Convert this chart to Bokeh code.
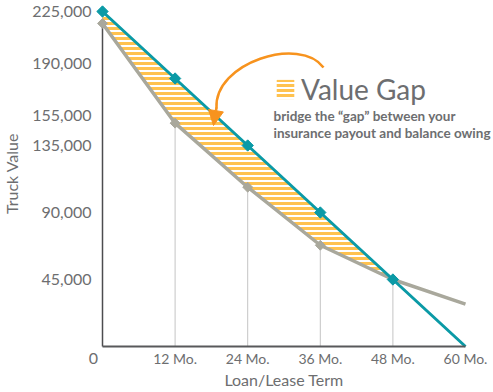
from math import pi
from bokeh.plotting import figure
from bokeh.models import (Range1d, FixedTicker, NumeralTickFormatter, Legend, LegendItem,
                          Label, Arrow, NormalHead)
from bokeh.embed import file_html
from bokeh.resources import INLINE

# ---------------- data ----------------
months = [0, 12, 24, 36, 48, 60]
x_tick_labels = ["12 Mo.", "24 Mo.", "36 Mo.", "48 Mo.", "60 Mo."]
loan_balance = [225000, 180000, 135000, 90000, 45000, 0]      # teal (balance owing)
truck_value = [217000, 150000, 107000, 68000, 45000, 28500]     # gray (insurance payout)
y_ticks = [45000, 90000, 135000, 155000, 190000, 225000]
zero_label = "0"
gap_months = months[:5]

# ---------------- style / geometry ----------------
TEAL = "#0b9aa6"
GRAY = "#a9a89c"
ORANGE_HATCH = "#ffc24f"
ORANGE = "#f7931e"
TEXT = "#6d6e70"
FONT = "Lato"

W, H = 493, 392
ORIGIN_PX = (102, 346)        # canvas position of (0, 0)
PX_PER_MONTH = 6.05
PX_PER_UNIT = (346 - 11) / 225000.0

x_start = -ORIGIN_PX[0] / PX_PER_MONTH
x_end = x_start + W / PX_PER_MONTH
y_start = -(H - ORIGIN_PX[1]) / PX_PER_UNIT
y_end = ORIGIN_PX[1] / PX_PER_UNIT

def page_to_x(px):
    return (px - ORIGIN_PX[0]) / PX_PER_MONTH

def page_to_y(py):
    return (ORIGIN_PX[1] - py) / PX_PER_UNIT

p = figure(width=W, height=H, output_backend="svg", toolbar_location=None,
           x_range=Range1d(x_start, x_end), y_range=Range1d(y_start, y_end),
           min_border_left=0, min_border_right=0, min_border_top=0, min_border_bottom=0)
p.xgrid.visible = False
p.ygrid.visible = False
p.outline_line_color = None
p.background_fill_color = "white"
p.border_fill_color = "white"

# y axis (drawn at x = 0)
ya = p.yaxis[0]
ya.fixed_location = 0
ya.bounds = (0, y_end)
ya.ticker = FixedTicker(ticks=y_ticks)
ya.formatter = NumeralTickFormatter(format="0,0")
ya.axis_line_color = None
ya.major_tick_line_color = None
ya.minor_tick_line_color = None
ya.major_tick_in = 0
ya.major_tick_out = 0
ya.major_label_standoff = 11
ya.major_label_text_font = FONT
ya.major_label_text_font_size = "16px"
ya.major_label_text_color = TEXT
ya.axis_label = "Truck Value"
ya.axis_label_text_font = FONT
ya.axis_label_text_font_size = "16px"
ya.axis_label_text_font_style = "normal"
ya.axis_label_text_color = TEXT
ya.axis_label_standoff = 8

# x axis (drawn at y = 0)
xa = p.xaxis[0]
xa.fixed_location = 0
xa.ticker = FixedTicker(ticks=months[1:])
xa.major_label_overrides = {m: lab for m, lab in zip(months[1:], x_tick_labels)}
xa.bounds = (months[0], months[-1])
xa.axis_line_color = "#58595b"
xa.axis_line_width = 2
xa.major_tick_line_color = None
xa.minor_tick_line_color = None
xa.major_tick_in = 0
xa.major_tick_out = 0
xa.major_label_standoff = 3
xa.major_label_text_font = FONT
xa.major_label_text_font_size = "14px"
xa.major_label_text_color = TEXT
xa.axis_label = "Loan/Lease Term"
xa.axis_label_text_font = FONT
xa.axis_label_text_font_size = "16px"
xa.axis_label_text_font_style = "normal"
xa.axis_label_text_color = TEXT
xa.axis_label_standoff = 0

# "0" corner label
p.add_layout(Label(x=page_to_x(93), y=page_to_y(358), text=zero_label, text_font=FONT,
                   text_font_size="16px", text_color=TEXT, text_align="center",
                   text_baseline="middle"))

# drop lines
drop_colors = ["#4d4d4f"] + ["#c4c4c4"] * 4
p.segment(x0=gap_months, y0=[0] * 5, x1=gap_months, y1=truck_value[:5],
          line_color=drop_colors, line_width=[1.5, 1, 1, 1, 1])

# hatched gap
gap = p.varea(x=gap_months, y1=truck_value[:5], y2=loan_balance[:5], fill_alpha=0,
              hatch_pattern="horizontal_line", hatch_color=ORANGE_HATCH,
              hatch_scale=5, hatch_weight=3)

# gray truck value line
p.line(months, truck_value, line_color=GRAY, line_width=3.5)
p.scatter(gap_months, truck_value[:5], marker="square", angle=pi / 4, size=7,
          fill_color=GRAY, line_color=GRAY)

# teal balance line
p.line(months, loan_balance, line_color=TEAL, line_width=3)
p.scatter(gap_months, loan_balance[:5], marker="square", angle=pi / 4, size=8,
          fill_color=TEAL, line_color=TEAL)

# legend
legend = Legend(items=[LegendItem(label="Value Gap", renderers=[gap])],
                location=(274, 286), padding=0, margin=0, spacing=0,
                glyph_width=22, glyph_height=24, label_standoff=5,
                label_text_font=FONT, label_text_font_size="28px",
                label_text_color=TEXT, background_fill_alpha=0,
                border_line_color=None)
p.add_layout(legend)

for txt, py in [("bridge the \u201cgap\u201d between your", 115),
                ("insurance payout and balance owing", 132)]:
    p.add_layout(Label(x=page_to_x(273), y=page_to_y(py), text=txt, text_font=FONT,
                       text_font_size="13.5px", text_font_style="bold", text_color=TEXT,
                       text_baseline="alphabetic"))

# curved arrow
p.bezier(x0=[page_to_x(323)], y0=[page_to_y(67)], x1=[page_to_x(216)], y1=[page_to_y(108)],
         cx0=[page_to_x(300)], cy0=[page_to_y(35)], cx1=[page_to_x(213)], cy1=[page_to_y(62)],
         line_color=ORANGE, line_width=2.5)
p.add_layout(Arrow(end=NormalHead(size=15, fill_color=ORANGE, line_color=ORANGE),
                   x_start=page_to_x(216), y_start=page_to_y(107),
                   x_end=page_to_x(213), y_end=page_to_y(125),
                   line_color=ORANGE, line_width=2.5))

open("out.html", "w").write(file_html(p, INLINE))
